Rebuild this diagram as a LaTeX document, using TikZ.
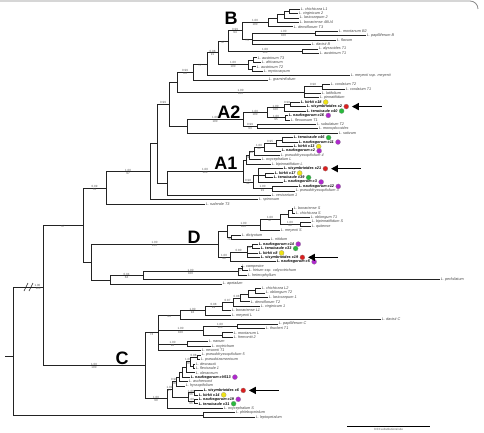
\documentclass[tikz,border=0pt]{standalone}
\usepackage{fontspec}
\setmainfont{Liberation Sans}
\usetikzlibrary{calc,arrows.meta}
\definecolor{cpur}{RGB}{175,40,205}
\definecolor{cgrn}{RGB}{40,185,60}
\definecolor{cyel}{RGB}{238,226,20}
\definecolor{cred}{RGB}{218,32,32}
\definecolor{linec}{RGB}{35,35,35}
\tikzset{
 br/.style={line width=0.6pt, draw=linec},
 lab/.style={font=\fontsize{3.8}{4}\selectfont\itshape, text=black!72, inner sep=0.6pt},
 nz/.style={font=\fontsize{3.8}{4}\selectfont\itshape\bfseries, text=black, inner sep=0.6pt},
 suplab/.style={font=\fontsize{3.0}{3.2}\selectfont, text=black!65, inner sep=0.3pt},
 cladelab/.style={font=\fontsize{18}{18}\selectfont\bfseries, inner sep=0pt, anchor=south},
 dotmark/.style={circle, draw=black!45, line width=0.2pt, minimum size=5pt, inner sep=0pt},
 bigarrow/.style={-{Triangle[length=7pt,width=7pt]}, line width=1.5pt},
}
\newcommand\leafnode[5][lab]{\coordinate (#2) at (#4,{9+(#3-1)*4.435});\node[#1,anchor=west] (#2l) at (#2) {#5};}
\newcommand\innode[4]{\path let \p1=(#3),\p2=(#4) in (#2pt,{0.5*\y1+0.5*\y2}) coordinate (#1);}
\newcommand\edges[2]{\foreach \chld in {#2}{\draw[br] (#1) |- (\chld);}}
\newcommand\supp[4]{\path let \p1=(#1),\p2=(#2) in
  node[suplab,anchor=south] (s#2a) at ({0.5*\x1+0.5*\x2},{\y2+0.1pt}) {#3}
  node[suplab,anchor=north] (s#2b) at ({0.5*\x1+0.5*\x2},{\y2-0.1pt}) {#4};}
\newcommand\dotat[2]{\node[dotmark,fill=#2,anchor=west] (#1d) at ([xshift=0.8pt]#1l.east) {};}
\newcommand\arrowat[1]{\coordinate (#1q) at ([xshift=3pt]#1d.east);\coordinate (#1p) at ([xshift=33pt]#1d.east);\draw[bigarrow] (#1p) -- (#1q);}
\begin{document}
\begin{tikzpicture}[x=1pt,y=-1pt]
\useasboundingbox (0,0) rectangle (484,433);
% frame (top)
\draw[black!45, line width=0.8pt] (0,1) -- (470,1) to[out=0,in=90] (478,9);
% ---------- leaves ----------
\leafnode{l1}{1}{300}{L. chichicara L1}
\leafnode{l2}{2}{298}{L. virginicum 2}
\leafnode{l3}{3}{299}{L. lasiocarpum 2}
\leafnode{l4}{4}{299}{L. bonariense 48U4}
\leafnode{l5}{5}{293}{L. densiflorum T3}
\leafnode{l6}{6}{338}{L. montanum B2}
\leafnode{l7}{7}{366}{L. papilliferum B}
\leafnode{l8}{8}{336}{L. flavum}
\leafnode{l9}{9}{311}{L. davisii B}
\leafnode{l10}{10}{318}{L. alyssoides T1}
\leafnode{l11}{11}{319}{L. austrinum T1}
\leafnode{l12}{12}{257}{L. austrinum T3}
\leafnode{l13}{13}{261}{L. africanum}
\leafnode{l14}{14}{256}{L. austrinum T2}
\leafnode{l15}{15}{263}{L. myriocarpum}
\leafnode{l16}{16}{350}{L. meyenii ssp. meyenii}
\leafnode{l17}{17}{268}{L. graminifolium}
\leafnode{l18}{18}{330}{L. cordatum T2}
\leafnode{l19}{19}{345}{L. cordatum T1}
\leafnode{l20}{20}{321}{L. latifolium}
\leafnode{l21}{21}{319}{L. pinnatifidum}
\leafnode[nz]{l22}{22}{300}{L. kirkii c18}
\leafnode[nz]{l23}{23}{306}{L. sisymbrioides c2}
\leafnode[nz]{l24}{24}{306}{L. tenuicaule c40}
\leafnode[nz]{l25}{25}{288}{L. naufragorum c16}
\leafnode{l26}{26}{290}{L. flexuosum T1}
\leafnode{l27}{27}{316}{L. subulatum T2}
\leafnode{l28}{28}{318}{L. monoplocoides}
\leafnode{l29}{29}{338}{L. sativum}
\leafnode[nz]{l30}{30}{293}{L. tenuicaule c46}
\leafnode[nz]{l31}{31}{298}{L. naufragorum c11}
\leafnode[nz]{l32}{32}{293}{L. kirkii c13}
\leafnode[nz]{l33}{33}{281}{L. naufragorum c2}
\leafnode{l34}{34}{280}{L. pseudohyssopifolium 4}
\leafnode{l35}{35}{261}{L. oxycephalum L}
\leafnode{l36}{36}{271}{L. bipinnatifidum L}
\leafnode[nz]{l37}{37}{283}{L. sisymbrioides c21}
\leafnode[nz]{l38}{38}{274}{L. kirkii c17}
\leafnode[nz]{l39}{39}{273}{L. tenuicaule c39}
\leafnode[nz]{l40}{40}{283}{L. naufragorum c3}
\leafnode[nz]{l41}{41}{298}{L. naufragorum c12}
\leafnode{l42}{42}{295}{L. pseudohyssopifolium 3}
\leafnode{l43}{43}{271}{L. vesicarium 1}
\leafnode{l44}{44}{258}{L. spinosum}
\leafnode{l45}{45}{205}{L. ruderale T3}
\leafnode{l46}{46}{293}{L. bonariense S}
\leafnode{l47}{47}{295}{L. chichicara S}
\leafnode{l48}{48}{310}{L. oblongum T1}
\leafnode{l49}{49}{311}{L. bipinnatifidum S}
\leafnode{l50}{50}{311}{L. quitense}
\leafnode{l51}{51}{280}{L. meyenii S}
\leafnode{l52}{52}{241}{L. dictyotum}
\leafnode{l53}{53}{270}{L. nitidum}
\leafnode[nz]{l54}{54}{258}{L. naufragorum c14}
\leafnode[nz]{l55}{55}{260}{L. tenuicaule c33}
\leafnode[nz]{l56}{56}{258}{L. kirkii c8}
\leafnode[nz]{l57}{57}{260}{L. sisymbrioides c19}
\leafnode[nz]{l58}{58}{276}{L. naufragorum c5}
\leafnode{l59}{59}{241}{L. campestre}
\leafnode{l60}{60}{248}{L. hirtum ssp. calycotrichum}
\leafnode{l61}{61}{247}{L. heterophyllum}
\leafnode{l62}{62}{440}{L. perfoliatum}
\leafnode{l63}{63}{222}{L. apetalum}
\leafnode{l64}{64}{261}{L. chichicara L2}
\leafnode{l65}{65}{265}{L. oblongum T2}
\leafnode{l66}{66}{268}{L. lasiocarpum 1}
\leafnode{l67}{67}{250}{L. densiflorum T2}
\leafnode{l68}{68}{260}{L. virginicum 1}
\leafnode{l69}{69}{231}{L. bonariense L1}
\leafnode{l70}{70}{231}{L. meyenii L}
\leafnode{l71}{71}{381}{L. davisii C}
\leafnode{l72}{72}{278}{L. papilliferum C}
\leafnode{l73}{73}{265}{L. thurberi T1}
\leafnode{l74}{74}{233}{L. montanum L}
\leafnode{l75}{75}{233}{L. fremontii 2}
\leafnode{l76}{76}{208}{L. nanum}
\leafnode{l77}{77}{211}{L. oxytrichum}
\leafnode{l78}{78}{201}{L. nesomii T1}
\leafnode{l79}{79}{201}{L. pseudohyssopifolium 5}
\leafnode{l80}{80}{200}{L. pseudotasmanicum}
\leafnode{l81}{81}{195}{L. desvauxii}
\leafnode{l82}{82}{195}{L. flexicaule 1}
\leafnode{l83}{83}{195}{L. oleraceum}
\leafnode[nz]{l84}{84}{190}{L. naufragorum cV613}
\leafnode{l85}{85}{188}{L. aschersonii}
\leafnode{l86}{86}{185}{L. hyssopifolium}
\leafnode[nz]{l87}{87}{203}{L. sisymbrioides c6}
\leafnode[nz]{l88}{88}{198}{L. kirkii c14}
\leafnode[nz]{l89}{89}{198}{L. naufragorum c19}
\leafnode[nz]{l90}{90}{198}{L. tenuicaule c31}
\leafnode{l91}{91}{223}{L. oxycephalum S}
\leafnode{l92}{92}{235}{L. phlebopetalum}
\leafnode{l93}{93}{255}{L. leptopetalum}
% ---------- internal nodes ----------
\innode{n1a}{289}{l1}{l2}
\innode{n1b}{284}{n1a}{l3}
\innode{n1c}{277}{n1b}{l4}
\innode{n1}{268}{n1c}{l5}
\innode{n3a}{315}{l6}{l7}
\innode{n2}{252}{n3a}{l9}
\innode{nB}{242}{n1}{n2}
\innode{naa}{302}{l10}{l11}
\innode{p1}{228}{nB}{naa}
\innode{narm2}{253}{l12}{l13}
\innode{narm3}{252}{l14}{l15}
\innode{narm}{248}{narm2}{narm3}
\innode{p2}{218}{p1}{narm}
\innode{p3}{207}{p2}{l16}
\innode{p4}{193}{p3}{l17}
\innode{ncd2}{322}{l18}{l19}
\innode{ncd}{304}{ncd2}{l21}
\innode{x177}{177}{p4}{ncd}
\innode{a2x}{290}{l22}{l23}
\innode{a2a1}{284}{a2x}{l24}
\innode{a2a2}{285}{l25}{l26}
\innode{a2a}{267}{a2a1}{a2a2}
\innode{a2c}{257}{l27}{l28}
\innode{a2}{243}{a2a}{a2c}
\innode{x187}{187}{a2}{l29}
\innode{x169}{169}{x177}{x187}
\innode{a1a5}{282}{l30}{l31}
\innode{a1a4}{276}{a1a5}{l32}
\innode{a1a3}{264}{a1a4}{l33}
\innode{a1a2}{254}{a1a3}{l34}
\innode{a1a1}{249}{a1a2}{l35}
\innode{a1a}{246}{a1a1}{l36}
\innode{a1b1x}{265}{l38}{l39}
\innode{a1b1}{258}{l37}{l40}
\innode{a1b2}{272}{l41}{l42}
\innode{a1b}{253}{a1b1}{a1b2}
\innode{a1}{243}{a1a}{a1b}
\innode{x167}{167}{a1}{l43}
\innode{x157}{157}{x169}{x167}
\innode{x150}{150}{x157}{l44}
\innode{x106}{106}{x150}{l45}
\innode{d1a2}{292}{l46}{l47}
\innode{d1a1}{288}{d1a2}{l48}
\innode{d1a3}{300}{l49}{l50}
\innode{d1a}{280}{d1a1}{d1a3}
\innode{d1b}{260}{d1a}{l51}
\innode{d1e}{231}{l52}{l53}
\innode{d1c}{227}{d1b}{d1e}
\innode{d2b}{252}{l54}{l55}
\innode{d2a}{247}{d2b}{l57}
\innode{d2}{230}{d2a}{l58}
\innode{dD}{218}{d1c}{d2}
\innode{nc1}{242}{l59}{l60}
\innode{nc}{238}{nc1}{l61}
\innode{nb}{143}{nc}{l62}
\innode{na}{110}{nb}{l63}
\innode{x91}{91}{dD}{na}
\innode{x83}{83}{x106}{x91}
\innode{L1}{255}{l64}{l65}
\innode{L2}{248}{L1}{l66}
\innode{L3}{240}{L2}{l67}
\innode{L4}{233}{L3}{l68}
\innode{L5}{222}{L4}{l69}
\innode{L6}{205}{L5}{l70}
\innode{c1a}{180}{L6}{l71}
\innode{c1b1}{237}{l72}{l73}
\innode{c1b2}{222}{l74}{l75}
\innode{c1b}{203}{c1b1}{c1b2}
\innode{c1c}{187}{l76}{l77}
\innode{c1}{158}{c1a}{l78}
\innode{b1}{197}{l79}{l80}
\innode{b3}{193}{l81}{l82}
\innode{b2}{190}{b1}{b3}
\innode{b4}{186}{b2}{l83}
\innode{b5}{182}{b4}{l84}
\innode{b6}{179}{b5}{l85}
\innode{c2b}{176}{b6}{l86}
\innode{c2c1}{194}{l87}{l88}
\innode{c2c2}{194}{l89}{l90}
\innode{c2c}{188}{c2c1}{c2c2}
\innode{c2a}{172}{c2b}{c2c}
\innode{c2}{167}{c2a}{l91}
\innode{cC}{145}{c1}{c2}
\coordinate (x43) at (43,287);
\innode{og}{203}{l92}{l93}
\coordinate (x13) at (13,356);
\coordinate (root) at (5,356);
% ---------- branches ----------
\edges{n1a}{l1,l2}
\edges{n1b}{n1a,l3}
\edges{n1c}{n1b,l4}
\edges{n1}{n1c,l5}
\edges{n3a}{l6,l7}
\edges{n2}{n3a,l8,l9}
\edges{nB}{n1,n2}
\edges{naa}{l10,l11}
\edges{p1}{nB,naa}
\edges{narm2}{l12,l13}
\edges{narm3}{l14,l15}
\edges{narm}{narm2,narm3}
\edges{p2}{p1,narm}
\edges{p3}{p2,l16}
\edges{p4}{p3,l17}
\edges{ncd2}{l18,l19}
\edges{ncd}{ncd2,l20,l21}
\edges{x177}{p4,ncd}
\edges{a2x}{l22,l23}
\edges{a2a1}{a2x,l24}
\edges{a2a2}{l25,l26}
\edges{a2a}{a2a1,a2a2}
\edges{a2c}{l27,l28}
\edges{a2}{a2a,a2c}
\edges{x187}{a2,l29}
\edges{x169}{x177,x187}
\edges{a1a5}{l30,l31}
\edges{a1a4}{a1a5,l32}
\edges{a1a3}{a1a4,l33}
\edges{a1a2}{a1a3,l34}
\edges{a1a1}{a1a2,l35}
\edges{a1a}{a1a1,l36}
\edges{a1b1x}{l38,l39}
\edges{a1b1}{l37,a1b1x,l40}
\edges{a1b2}{l41,l42}
\edges{a1b}{a1b1,a1b2}
\edges{a1}{a1a,a1b}
\edges{x167}{a1,l43}
\edges{x157}{x169,x167}
\edges{x150}{x157,l44}
\edges{x106}{x150,l45}
\edges{d1a2}{l46,l47}
\edges{d1a1}{d1a2,l48}
\edges{d1a3}{l49,l50}
\edges{d1a}{d1a1,d1a3}
\edges{d1b}{d1a,l51}
\edges{d1e}{l52,l53}
\edges{d1c}{d1b,d1e}
\edges{d2b}{l54,l55}
\edges{d2a}{d2b,l56,l57}
\edges{d2}{d2a,l58}
\edges{dD}{d1c,d2}
\edges{nc1}{l59,l60}
\edges{nc}{nc1,l61}
\edges{nb}{nc,l62}
\edges{na}{nb,l63}
\edges{x91}{dD,na}
\edges{x83}{x106,x91}
\edges{L1}{l64,l65}
\edges{L2}{L1,l66}
\edges{L3}{L2,l67}
\edges{L4}{L3,l68}
\edges{L5}{L4,l69}
\edges{L6}{L5,l70}
\edges{c1a}{L6,l71}
\edges{c1b1}{l72,l73}
\edges{c1b2}{l74,l75}
\edges{c1b}{c1b1,c1b2}
\edges{c1c}{l76,l77}
\edges{c1}{c1a,c1b,c1c,l78}
\edges{b1}{l79,l80}
\edges{b3}{l81,l82}
\edges{b2}{b1,b3}
\edges{b4}{b2,l83}
\edges{b5}{b4,l84}
\edges{b6}{b5,l85}
\edges{c2b}{b6,l86}
\edges{c2c1}{l87,l88}
\edges{c2c2}{l89,l90}
\edges{c2c}{c2c1,c2c2}
\edges{c2a}{c2b,c2c}
\edges{c2}{c2a,l91}
\edges{cC}{c1,c2}
\edges{x43}{x83,cC}
\edges{og}{l92,l93}
\edges{x13}{x43,og}
\draw[br] (root) -- (x13);
% break marks
\coordinate (bk1a) at (24,291); \coordinate (bk1b) at (28,283);
\coordinate (bk2a) at (29,291); \coordinate (bk2b) at (33,283);
\draw[br] (bk1a) -- (bk1b); \draw[br] (bk2a) -- (bk2b);
\node[suplab,anchor=south west] (rs1) at (34,286.6) {1.00};
\node[suplab,anchor=north west] (rs2) at (35,287.4) {100};
% ---------- support values ----------
\supp{nB}{n1}{1.00}{100}
\supp{n2}{n3a}{1.00}{100}
\supp{nB}{n2}{}{75}
\supp{p1}{naa}{1.00}{100}
\supp{p1}{nB}{0.99}{94}
\supp{p2}{p1}{}{97}
\supp{p2}{narm}{1.00}{100}
\supp{p3}{p2}{0.98}{91}
\supp{p4}{p3}{}{77}
\supp{x177}{p4}{0.99}{84}
\supp{x177}{ncd}{1.00}{100}
\supp{ncd}{ncd2}{0.98}{}
\supp{x187}{a2}{1.00}{100}
\supp{a2}{a2a}{1.00}{100}
\supp{a2a}{a2a1}{1.00}{100}
\supp{a2a1}{a2x}{0.98}{}
\supp{a2a}{a2a2}{1.00}{95}
\supp{a2}{a2c}{0.99}{93}
\supp{x157}{x169}{0.99}{}
\supp{x167}{a1}{1.00}{100}
\supp{a1}{a1b}{0.98}{92}
\supp{a1b}{a1b2}{1.00}{91}
\supp{a1a2}{a1a3}{1.00}{98}
\supp{a1a3}{a1a4}{0.95}{}
\supp{a1a1}{a1a2}{}{98}
\supp{a1a}{a1a1}{}{99}
\supp{x106}{x150}{1.00}{97}
\supp{x83}{x106}{0.99}{55}
\supp{x43}{x83}{}{67}
\supp{x91}{dD}{1.00}{100}
\supp{dD}{d2}{1.00}{98}
\supp{d2}{d2a}{0.80}{}
\supp{d2a}{d2b}{}{66}
\supp{d1c}{d1b}{1.00}{100}
\supp{d1b}{d1a}{1.00}{97}
\supp{d1a}{d1a3}{1.00}{98}
\supp{d1c}{d1e}{}{76}
\supp{na}{nb}{0.94}{84}
\supp{nb}{nc}{1.00}{100}
\supp{nc}{nc1}{}{57}
\supp{x43}{cC}{1.00}{100}
\supp{cC}{c1}{}{73}
\supp{c1}{c1a}{}{94}
\supp{c1a}{L6}{1.00}{94}
\supp{L6}{L5}{0.98}{99}
\supp{L5}{L4}{0.87}{}
\supp{L4}{L3}{0.98}{}
\supp{c1}{c1b}{1.00}{100}
\supp{c1b}{c1b1}{1.00}{100}
\supp{c1}{c1c}{1.00}{98}
\supp{cC}{c2}{1.00}{99}
\supp{c2}{c2a}{1.00}{97}
\supp{c2a}{c2b}{0.98}{88}
\supp{b2}{b1}{0.98}{}
\supp{b4}{b2}{1.00}{88}
\supp{c2c}{c2c1}{1.00}{96}
\supp{c2c}{c2c2}{1.00}{96}
% ---------- coloured marks ----------
\dotat{l22}{cyel}\dotat{l23}{cred}\dotat{l24}{cgrn}\dotat{l25}{cpur}
\dotat{l30}{cgrn}\dotat{l31}{cpur}\dotat{l32}{cyel}\dotat{l33}{cpur}
\dotat{l37}{cred}\dotat{l38}{cyel}\dotat{l39}{cgrn}\dotat{l40}{cpur}\dotat{l41}{cpur}
\dotat{l54}{cpur}\dotat{l55}{cgrn}\dotat{l56}{cyel}\dotat{l57}{cred}\dotat{l58}{cpur}
\dotat{l84}{cpur}
\dotat{l87}{cred}\dotat{l88}{cyel}\dotat{l89}{cpur}\dotat{l90}{cgrn}
\arrowat{l23}\arrowat{l37}\arrowat{l57}\arrowat{l87}
% ---------- clade letters ----------
\node[cladelab] (cB) at (231,24.5) {B};
\node[cladelab] (cA2) at (229,119) {A2};
\node[cladelab] (cA1) at (226,169.5) {A1};
\node[cladelab] (cD) at (194,243.5) {D};
\node[cladelab] (cCl) at (122,365) {C};
% ---------- scale bar ----------
\coordinate (sb1) at (347,426); \coordinate (sb2) at (430,426);
\draw[line width=0.6pt] (sb1) -- (sb2);
\node[suplab,anchor=north] (sbt) at ($(sb1)!0.5!(sb2)+(0,1.5)$) {0.03 substitutions/site};
\end{tikzpicture}
\end{document}
